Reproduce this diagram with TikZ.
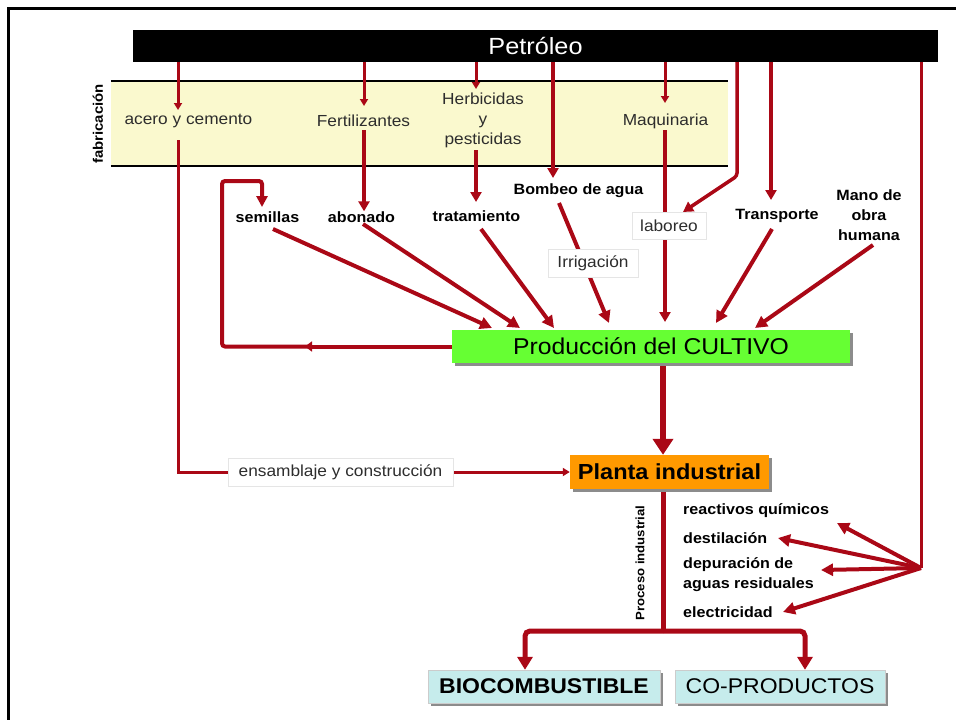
\documentclass[tikz,border=0pt]{standalone}
\usepackage{fontspec}
\setmainfont{Liberation Sans}[FakeStretch=1.08]
\usetikzlibrary{arrows.meta,shadows}
\definecolor{rd}{RGB}{170,8,22}
\definecolor{bandy}{RGB}{250,249,206}
\definecolor{grn}{RGB}{102,255,51}
\definecolor{orng}{RGB}{255,153,0}
\definecolor{cyn}{RGB}{198,236,236}
\definecolor{txtg}{RGB}{45,45,45}
\pgfdeclarelayer{band}
\pgfdeclarelayer{lines}
\pgfsetlayers{band,lines,main}
\tikzset{
 gtxt/.style={inner sep=0pt, text=txtg, font=\fontsize{16}{20}\selectfont, align=center},
 btxt/.style={inner sep=0pt, text=black, font=\fontsize{14.9}{20}\selectfont\bfseries, align=center},
 lbox/.style={gtxt, draw=black!10, fill=white, line width=0.8pt},
 thinl/.style={draw=rd, line width=3pt},
 thina/.style={thinl, -{Triangle[length=7pt,width=8pt]}},
 meda/.style={draw=rd, line width=3.5pt, -{Triangle[length=10pt,width=11pt]}},
 fata/.style={draw=rd, line width=4pt, -{Triangle[length=12pt,width=12pt]}},
 treel/.style={draw=rd, line width=5pt},
 bigbox/.style={inner sep=0pt, drop shadow={shadow xshift=3pt, shadow yshift=-3pt, fill=black!45, opacity=1}},
}
\begin{document}
\begin{tikzpicture}[x=1pt,y=-1pt]
\useasboundingbox (0,0) rectangle (956,720);
\draw[line width=3pt] (8,720) -- (8,8) -- (956,8);

% oil bar
\node[fill=black, minimum width=805pt, minimum height=32pt, inner sep=0pt, text=white,
      font=\fontsize{23.4}{25}\selectfont] (bar) at (535.5,46) {Petróleo};

% fabrication band
\begin{pgfonlayer}{band}
\node[fill=bandy, minimum width=617pt, minimum height=85pt, inner sep=0pt] (band) at (419.5,123.5) {};
\draw[line width=1.5pt] (band.north west) -- (band.north east) (band.south west) -- (band.south east);
\end{pgfonlayer}
\node[gtxt] (acero) at (188.5,121) {acero y cemento};
\node[gtxt] (fert) at (363.5,121) {Fertilizantes};
\node[gtxt] (herb) at (483,120) {Herbicidas\\y\\pesticidas};
\node[gtxt] (maq) at (665.5,121) {Maquinaria};
\node[btxt, rotate=90, font=\fontsize{13.8}{15}\selectfont\bfseries] (fab) at (98,124) {fabricación};

% inputs
\node[btxt] (sem) at (267.5,217) {semillas};
\node[btxt] (abo) at (361.5,217) {abonado};
\node[btxt] (tra) at (476.5,216) {tratamiento};
\node[btxt] (bom) at (578.5,191) {Bombeo de agua};
\node[lbox, minimum width=74pt, minimum height=27pt] (lab) at (669,225.5) {laboreo};
\node[lbox, minimum width=90pt, minimum height=28pt] (irr) at (593,263) {Irrigación};
\node[btxt] (tran) at (777,216) {Transporte};
\node[btxt] (mano) at (869,215) {Mano de\\obra\\humana};

% main boxes
\node[bigbox, fill=grn, minimum width=398pt, minimum height=33pt,
      font=\fontsize{22.9}{24}\selectfont] (prod) at (651,346.5) {Producción del CULTIVO};
\node[bigbox, fill=orng, minimum width=199pt, minimum height=34pt,
      font=\fontsize{21.8}{23}\selectfont\bfseries] (planta) at (669.5,472) {Planta industrial};
\node[lbox, minimum width=225pt, minimum height=28pt] (ens) at (340.5,472) {ensamblaje y construcción};
\node[btxt, rotate=90, font=\fontsize{12.2}{14}\selectfont\bfseries] (proc) at (640,563) {Proceso industrial};
\node[btxt, anchor=west] (reac) at (683,511) {reactivos químicos};
\node[btxt, anchor=west] (dest) at (683,538) {destilación};
\node[btxt, anchor=west, align=left] (dep) at (683,575) {depuración de\\aguas residuales};
\node[btxt, anchor=west] (elec) at (683,612) {electricidad};
\node[bigbox, fill=cyn, draw=black!20, minimum width=232pt, minimum height=33pt,
      font=\fontsize{21.3}{23}\selectfont\bfseries] (bio) at (544,686.5) {BIOCOMBUSTIBLE};
\node[bigbox, fill=cyn, draw=black!20, minimum width=210pt, minimum height=33pt,
      font=\fontsize{21.3}{23}\selectfont] (cop) at (780,686.5) {CO-PRODUCTOS};

\coordinate (cx) at (663,0);
\coordinate (bx) at (525,0);
\coordinate (ox) at (805,0);
\coordinate (jn) at (663,631);
\coordinate (hub) at (921,568);

\begin{pgfonlayer}{lines}
% from the oil bar
\draw[thina] (bar.south -| 178,0) -- (178,110);
\draw[thinl] (178,140) |- (ens.west);
\draw[thina] (ens.east) -- (ens.east -| planta.west);
\draw[thina] (364,62) -- (364,106);
\draw[meda] (364,130) -- (abo.north -| 364,0);
\draw[thina] (476,62) -- (476,89);
\draw[meda] (476,150) -- (476,202);
\draw[meda] (553,62) -- (553,178);
\draw[thina] (665,62) -- (665,103);
\draw[meda] (665,130) -- (665,322);
\draw[meda, rounded corners=3pt] (737,62) -- (737,176) -- (683,212);
\draw[meda] (771,62) -- (771,200);
\draw[thinl] (921,62) -- (hub);
% fan to process inputs
\draw[fata] (hub) -- (837,523);
\draw[fata] (hub) -- (778,538);
\draw[fata] (hub) -- (821,570);
\draw[fata] (hub) -- (783,612);
% into production
\draw[fata] (273,229) -- (492,328);
\draw[fata] (363,224) -- (520,328);
\draw[fata] (481,229) -- (554,328);
\draw[fata] (559,203) -- (609,323);
\draw[fata] (772,229) -- (716,323);
\draw[fata] (873,245) -- (755,328);
% seed loop
\draw[draw=rd, line width=4pt, -{Triangle[length=7pt,width=10pt]}] (prod.west) -- (305,346.5);
\draw[draw=rd, line width=4pt, rounded corners=3pt, -{Triangle[length=11pt,width=11pt]}]
  (308,346.5) -- (222,346.5) -- (222,181) -- (262,181) -- (262,207);
% production to plant
\draw[draw=rd, line width=6pt, -{Triangle[length=16pt,width=20pt]}] (prod.south -| cx) -- (planta.north -| cx);
% plant to products
\draw[treel] (planta.south -| cx) -- (jn);
\draw[treel, rounded corners=5pt, -{Triangle[length=13pt,width=15pt]}] (jn) -| (bio.north -| bx);
\draw[treel, rounded corners=5pt, -{Triangle[length=13pt,width=15pt]}] (jn) -| (cop.north -| ox);
\end{pgfonlayer}
\end{tikzpicture}
\end{document}
